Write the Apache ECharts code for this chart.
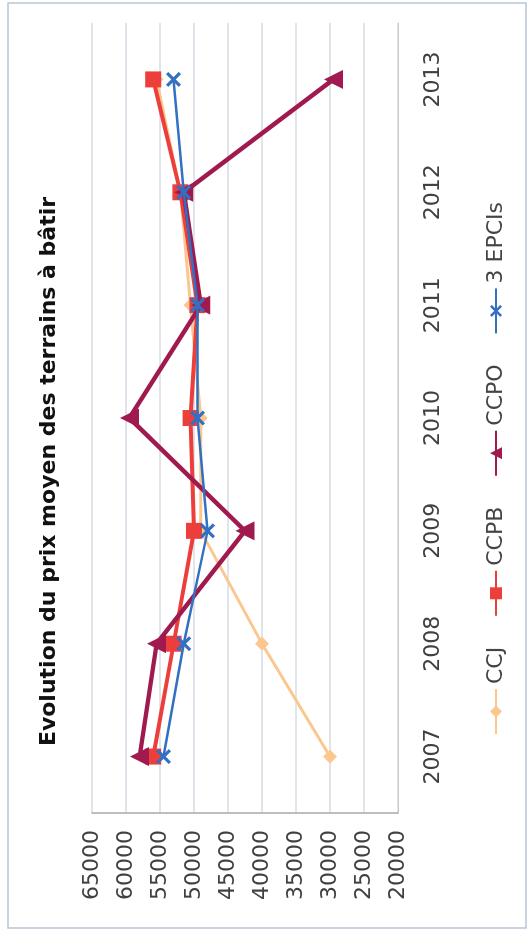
<!DOCTYPE html>
<html>
<head>
<meta charset="utf-8">
<script src="https://cdn.jsdelivr.net/npm/echarts@6/dist/echarts.min.js"></script>
<style>
  html, body { margin: 0; padding: 0; background: #ffffff; overflow: hidden; width: 530px; height: 943px; }
  /* The scanned chart is turned a quarter turn counter-clockwise */
  #chart { position: absolute; left: 0; top: 0; width: 943px; height: 530px;
           transform-origin: 0 0; transform: translate(0, 943px) rotate(-90deg); }
</style>
</head>
<body>
<div id="chart"></div>
<script>
const years = ['2007', '2008', '2009', '2010', '2011', '2012', '2013'];
const ccj   = [30000, 40000, 49000, 49000, 50500, 52000, 55500];
const ccpb  = [56000, 53000, 50000, 50500, 49500, 52000, 56000];
const ccpo  = [58000, 55500, 42500, 59500, 49000, 51500, 29500];
const epcis = [54500, 51500, 48000, 49500, 49500, 51500, 53000];
const seriesNames = ['CCJ', 'CCPB', 'CCPO', '3 EPCIs'];
const titleText = 'Evolution du prix moyen des terrains à bâtir';

const xMark = 'path://M0,1.5L1.5,0L5,3.5L8.5,0L10,1.5L6.5,5L10,8.5L8.5,10L5,6.5L1.5,10L0,8.5L3.5,5Z';

const chart = echarts.init(document.getElementById('chart'), null, { renderer: 'canvas' });
chart.setOption({
  backgroundColor: '#ffffff',
  animation: false,
  title: {
    text: titleText,
    left: 'center',
    top: 33,
    textStyle: { fontFamily: 'DejaVu Sans', fontWeight: 'bold', fontSize: 22, color: '#111111' }
  },
  graphic: [{
    type: 'rect',
    shape: { x: 15, y: 8, width: 925, height: 518 },
    style: { fill: 'none', stroke: '#b9c6d8', lineWidth: 1.5 },
    silent: true, z: -1
  }],
  legend: {
    data: seriesNames,
    left: 203,
    top: 480,
    itemWidth: 45,
    itemHeight: 15,
    itemGap: 30,
    textStyle: { fontFamily: 'DejaVu Sans', fontSize: 22, color: '#444444' }
  },
  grid: { left: 130, right: 23, top: 92, bottom: 132 },
  xAxis: {
    type: 'category',
    data: years,
    boundaryGap: true,
    axisLine: { show: true, lineStyle: { color: '#c8c8c8', width: 1 } },
    axisTick: { show: false },
    axisLabel: { fontFamily: 'DejaVu Sans', fontSize: 22, color: '#404040', margin: 24 },
    splitLine: { show: false }
  },
  yAxis: {
    type: 'value',
    min: 20000,
    max: 65000,
    interval: 5000,
    axisLine: { show: true, lineStyle: { color: '#a8a8a8', width: 1.5 } },
    axisTick: { show: false },
    axisLabel: { fontFamily: 'DejaVu Sans', fontSize: 22, color: '#404040', margin: 17,
                 formatter: function (v) { return String(v); } },
    splitLine: { show: true, lineStyle: { color: '#d6dde6', width: 1.5 } }
  },
  series: [
    {
      name: 'CCJ', type: 'line', data: ccj, z: 2,
      symbol: 'diamond', symbolSize: 14,
      lineStyle: { color: '#fbc78e', width: 3 },
      itemStyle: { color: '#fbc78e' }
    },
    {
      name: 'CCPB', type: 'line', data: ccpb, z: 3,
      symbol: 'rect', symbolSize: 16,
      lineStyle: { color: '#ec3f3c', width: 4 },
      itemStyle: { color: '#ec3f3c' }
    },
    {
      name: 'CCPO', type: 'line', data: ccpo, z: 4,
      symbol: 'triangle', symbolSize: 19,
      lineStyle: { color: '#a01a50', width: 4.5 },
      itemStyle: { color: '#a01a50' }
    },
    {
      name: '3 EPCIs', type: 'line', data: epcis, z: 5,
      symbol: xMark, symbolSize: 15,
      lineStyle: { color: '#3270c2', width: 2.5 },
      itemStyle: { color: '#3270c2' }
    }
  ]
});
</script>
</body>
</html>
